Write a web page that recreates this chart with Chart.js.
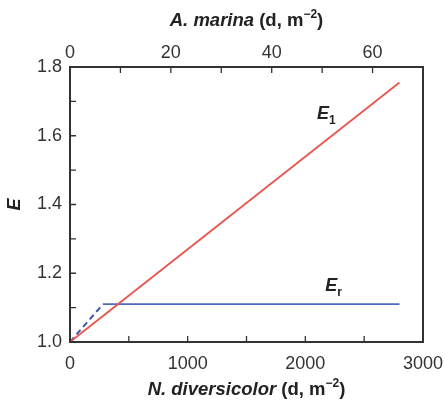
<!DOCTYPE html>
<html>
<head>
<meta charset="utf-8">
<script src="https://cdn.jsdelivr.net/npm/chart.js@4.4.1/dist/chart.umd.min.js"></script>
<style>
  html,body{margin:0;padding:0;background:#fff}
  #wrap{width:446px;height:403px}
</style>
</head>
<body>
<div id="wrap"><canvas id="chart" width="446" height="403"></canvas></div>
<script>
// N. diversicolor density (bottom axis) and efficiency E
const e1X = [0, 2800];
const e1Y = [1.0, 1.755];
const erDashX = [0, 280];
const erDashY = [1.0, 1.11];
const erFlatX = [280, 2800];
const erFlatY = [1.11, 1.11];
const bottomLabels = [0, 1000, 2000, 3000];
const topLabels = [0, 20, 40, 60];
const yLabels = [1.0, 1.2, 1.4, 1.6, 1.8];

const FONT = "'Liberation Sans', Arial, sans-serif";
const AXIS = '#333';
const RED = '#e8554f';
const BLUE = '#5068c0';

function pts(xs, ys){ return xs.map((x,i)=>({x:x, y:ys[i]})); }

// keep chart area fixed, ignore label overhang
function noPad(s){ s.paddingLeft = 0; s.paddingRight = 0; s.paddingTop = 0; s.paddingBottom = 0; }

// inward ticks, frame, titles and line labels
const decor = {
  id: 'decor',
  afterDraw(chart){
    const ctx = chart.ctx;
    const a = chart.chartArea;
    const xs = chart.scales.x, xt = chart.scales.x2, ys = chart.scales.y;
    ctx.save();
    ctx.strokeStyle = AXIS;
    ctx.lineWidth = 2;
    ctx.strokeRect(a.left, a.top, a.right - a.left, a.bottom - a.top);
    ctx.lineWidth = 1.3;
    ctx.beginPath();
    xs.ticks.forEach(t=>{
      const p = xs.getPixelForValue(t.value);
      ctx.moveTo(p, a.bottom); ctx.lineTo(p, a.bottom - 6);
    });
    xt.ticks.forEach(t=>{
      const p = xt.getPixelForValue(t.value);
      ctx.moveTo(p, a.top); ctx.lineTo(p, a.top + 6);
    });
    ys.ticks.forEach(t=>{
      const p = ys.getPixelForValue(t.value);
      ctx.moveTo(a.left, p); ctx.lineTo(a.left + 6, p);
    });
    ctx.stroke();

    ctx.fillStyle = '#222';
    ctx.textBaseline = 'middle';
    const cx = (a.left + a.right) / 2;

    function mixed(parts, x, y){
      let w = 0;
      parts.forEach(p=>{ ctx.font = p.f; w += ctx.measureText(p.t).width; });
      let s = x - w / 2;
      ctx.textAlign = 'left';
      parts.forEach(p=>{
        ctx.font = p.f;
        ctx.fillText(p.t, s, y + (p.dy || 0));
        s += ctx.measureText(p.t).width;
      });
    }
    mixed([
      {t:'A. marina', f:'italic bold 18.5px ' + FONT},
      {t:' (d, m', f:'bold 18.5px ' + FONT},
      {t:'\u22122', f:'bold 12px ' + FONT, dy:-6},
      {t:')', f:'bold 18.5px ' + FONT}
    ], cx, 21);
    mixed([
      {t:'N. diversicolor', f:'italic bold 18.5px ' + FONT},
      {t:' (d, m', f:'bold 18.5px ' + FONT},
      {t:'\u22122', f:'bold 12px ' + FONT, dy:-6},
      {t:')', f:'bold 18.5px ' + FONT}
    ], cx, 390);

    ctx.save();
    ctx.translate(15, (a.top + a.bottom) / 2);
    ctx.rotate(-Math.PI / 2);
    ctx.font = 'italic bold 18px ' + FONT;
    ctx.textAlign = 'center';
    ctx.fillText('E', 0, 0);
    ctx.restore();

    function lineLabel(sub, xv, yv){
      const px = xs.getPixelForValue(xv), py = ys.getPixelForValue(yv);
      ctx.textAlign = 'left';
      ctx.font = 'italic bold 18px ' + FONT;
      ctx.fillText('E', px, py);
      const w = ctx.measureText('E').width;
      ctx.font = 'bold 12px ' + FONT;
      ctx.fillText(sub, px + w, py + 7);
    }
    lineLabel('1', 2100, 1.663);
    lineLabel('r', 2170, 1.163);
    ctx.restore();
  }
};

new Chart(document.getElementById('chart'), {
  type: 'line',
  data: {
    datasets: [
      {data: pts(e1X, e1Y), borderColor: RED, borderWidth: 1.8, pointRadius: 0, xAxisID: 'x', yAxisID: 'y'},
      {data: pts(erFlatX, erFlatY), borderColor: BLUE, borderWidth: 1.8, pointRadius: 0, xAxisID: 'x', yAxisID: 'y'},
      {data: pts(erDashX, erDashY), borderColor: '#3d56ad', borderWidth: 2, borderDash: [6, 4], pointRadius: 0, xAxisID: 'x', yAxisID: 'y'}
    ]
  },
  options: {
    responsive: false,
    animation: false,
    devicePixelRatio: 1,
    layout: {padding: {left: 0, right: 23, top: 0, bottom: 0}},
    plugins: {legend: {display: false}, tooltip: {enabled: false}},
    scales: {
      x: {
        type: 'linear', position: 'bottom', min: 0, max: 3000,
        grid: {display: false, drawTicks: false}, border: {display: false},
        ticks: {
          stepSize: 500, maxRotation: 0, autoSkip: false, padding: 11,
          color: '#333', font: {family: FONT, size: 18},
          callback: v => bottomLabels.includes(v) ? String(v) : ''
        },
        afterFit: s => { s.height = 61; noPad(s); }
      },
      x2: {
        type: 'linear', position: 'top', min: 0, max: 70,
        grid: {display: false, drawTicks: false}, border: {display: false},
        ticks: {
          stepSize: 10, maxRotation: 0, autoSkip: false, padding: 3,
          color: '#333', font: {family: FONT, size: 18},
          callback: v => topLabels.includes(v) ? String(v) : ''
        },
        afterFit: s => { s.height = 67; noPad(s); }
      },
      y: {
        type: 'linear', min: 1.0, max: 1.8,
        grid: {display: false, drawTicks: false}, border: {display: false},
        ticks: {
          stepSize: 0.1, autoSkip: false, padding: 8,
          color: '#333', font: {family: FONT, size: 18},
          callback: v => {
            const r = Math.round(v * 10) / 10;
            return yLabels.some(l => Math.abs(l - r) < 1e-6) ? r.toFixed(1) : '';
          }
        },
        afterFit: s => { s.width = 70; noPad(s); }
      }
    }
  },
  plugins: [decor]
});
</script>
</body>
</html>
